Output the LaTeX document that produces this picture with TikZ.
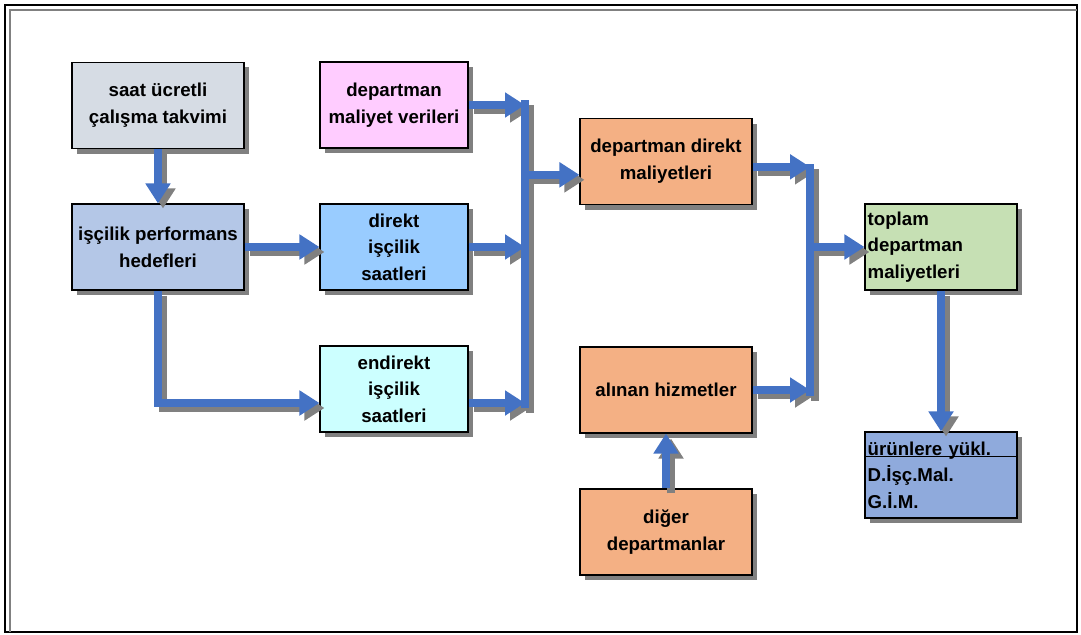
\documentclass[tikz,border=0pt]{standalone}
\usepackage{fontspec}
\setmainfont{Liberation Sans}
\usetikzlibrary{arrows.meta,shadows}
\definecolor{flowblue}{RGB}{68,114,196}
\definecolor{shadowgray}{RGB}{128,128,128}
\definecolor{calgray}{RGB}{214,220,228}
\definecolor{costpink}{RGB}{255,204,255}
\definecolor{perfblue}{RGB}{180,199,231}
\definecolor{directblue}{RGB}{153,204,255}
\definecolor{indirectcyan}{RGB}{204,255,255}
\definecolor{deptorange}{RGB}{244,176,132}
\definecolor{totalgreen}{RGB}{198,224,180}
\definecolor{loadblue}{RGB}{143,170,220}

\begin{document}
\begin{tikzpicture}[x=0.75pt,y=-0.75pt,
                    font=\fontsize{14}{20}\selectfont\bfseries,
                    main box/.style={rectangle,draw,line width=0.8pt,align=center,
                        minimum width=129pt,minimum height=64.5pt,inner sep=2pt,
                        general shadow={fill=shadowgray,shadow xshift=3.75pt,shadow yshift=-3.75pt}},
                    narrow box/.style={main box,minimum width=111pt},
                    list box/.style={main box,minimum width=114pt,text width=110pt,align=left},
                    flow/.style={line width=6pt,draw=flowblue,-{Triangle[length=15pt,width=18pt]},
                        preaction={draw=shadowgray,line width=6pt,transform canvas={shift={(3.75pt,-3.75pt)}}}},
                    bus/.style={line width=5.5pt,draw=flowblue,
                        preaction={draw=shadowgray,line width=5.5pt,transform canvas={shift={(3.75pt,-3.75pt)}}}}]
                    \useasboundingbox (0,0) rectangle (1081,635);
                    \draw[line width=1.5pt] (5,5) rectangle (1077,632);
                    \draw[shadowgray,line width=1.5pt] (10,632) -- (10,10) -- (1077,10);

                    \node[main box,fill=calgray] (cal) at (158,105.5) {saat ücretli\\çalışma takvimi};
                    \node[narrow box,fill=costpink] (cost) at (394,105) {departman\\maliyet verileri};
                    \node[main box,fill=perfblue] (perf) at (158,247) {işçilik performans\\hedefleri};
                    \node[narrow box,fill=directblue] (direct) at (394,247) {direkt\\işçilik\\saatleri};
                    \node[narrow box,fill=indirectcyan] (indirect) at (394,389) {endirekt\\işçilik\\saatleri};
                    \node[main box,fill=deptorange] (deptdirect) at (666,161.5) {departman direkt\\maliyetleri};
                    \node[main box,fill=deptorange] (services) at (666,390) {alınan hizmetler};
                    \node[main box,fill=deptorange] (others) at (666,532) {diğer\\departmanlar};
                    \node[list box,fill=totalgreen] (total) at (941,247) {toplam\\departman\\maliyetleri};
                    \node[list box,fill=loadblue] (load) at (941,475) {ürünlere yükl.\\D.İşç.Mal.\\G.İ.M.};
                    \draw[line width=0.8pt] ([yshift=-18.75pt]load.north west) -- ([yshift=-18.75pt]load.north east);

                    \coordinate (bus1top) at (525,100);
                    \coordinate (bus1bot) at (525,408);
                    \coordinate (bus2top) at (810,164);
                    \coordinate (bus2bot) at (810,396);
                    \coordinate (indirectin) at ([yshift=-10.5pt]indirect.west);
                    \coordinate (indirectout) at ([yshift=-10.5pt]indirect.east);
                    \coordinate (deptin) at ([yshift=-10pt]deptdirect.west);
                    \coordinate (deptout) at ([yshift=-4pt]deptdirect.east);

                    \draw[flow] (cal.south) -- (perf.north);
                    \draw[flow] (perf.east) -- (direct.west);
                    \draw[flow] (perf.south) |- (indirectin);
                    \draw[flow] (cost.east) -- (cost.east -| bus1top);
                    \draw[flow] (direct.east) -- (direct.east -| bus1top);
                    \draw[flow] (indirectout) -- (indirectout -| bus1top);
                    \draw[bus] (bus1top) -- (bus1bot);
                    \draw[flow] (deptin -| bus1top) -- (deptin);
                    \draw[flow] (deptout) -- (deptout -| bus2top);
                    \draw[flow] (services.east) -- (services.east -| bus2top);
                    \draw[bus] (bus2top) -- (bus2bot);
                    \draw[flow] (total.west -| bus2top) -- (total.west);
                    \draw[flow] (total.south) -- (load.north);
                    \draw[flow] (others.north) -- (services.south);
\end{tikzpicture}
\end{document}
